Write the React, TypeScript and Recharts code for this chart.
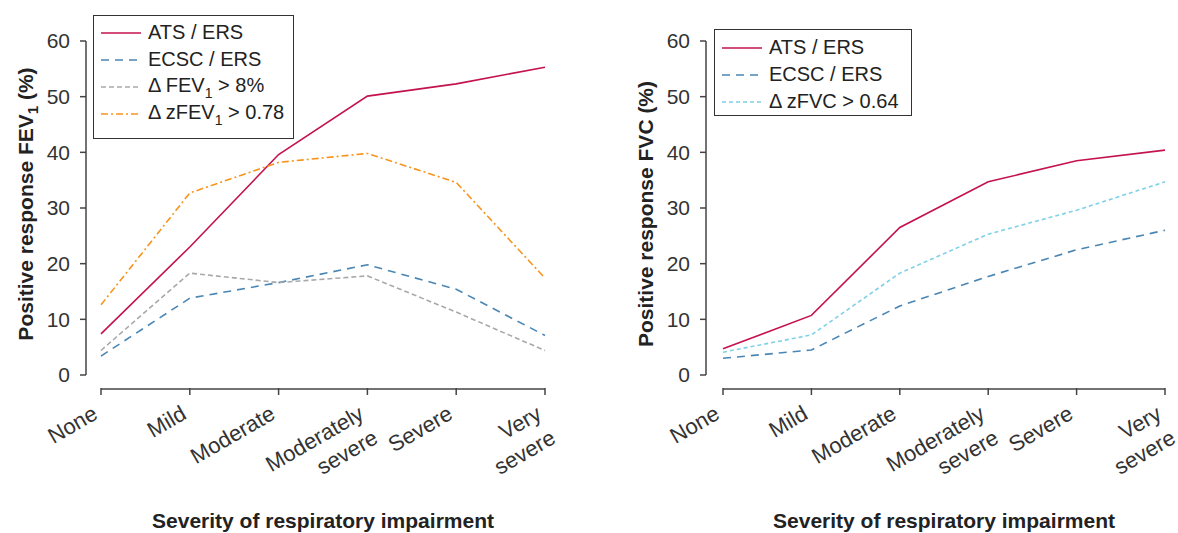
import {Legend, Line, LineChart, ReferenceLine, XAxis, YAxis} from 'recharts'

const FONT = '"Liberation Sans", Arial, Helvetica, sans-serif'
const AXIS = '#444'

const categories = ['None', 'Mild', 'Moderate', 'Moderately severe', 'Severe', 'Very severe']
const tickLines = [['None'], ['Mild'], ['Moderate'], ['Moderately', 'severe'], ['Severe'], ['Very', 'severe']]
const yTicks = [0, 10, 20, 30, 40, 50, 60]

// FEV1 panel
const fevAtsErs = [7.4, 23.0, 39.6, 50.1, 52.3, 55.3]
const fevEcscErs = [3.4, 13.8, 16.6, 19.8, 15.4, 7.1]
const fevDelta8 = [4.4, 18.3, 16.6, 17.8, 11.3, 4.4]
const fevDeltaZ = [12.6, 32.7, 38.2, 39.8, 34.6, 17.4]

// FVC panel
const fvcAtsErs = [4.7, 10.7, 26.5, 34.7, 38.5, 40.4]
const fvcEcscErs = [3.0, 4.5, 12.4, 17.7, 22.5, 26.0]
const fvcDeltaZ = [4.1, 7.2, 18.3, 25.3, 29.6, 34.7]

const sub = (t: string) => <span style={{fontSize: 14, position: 'relative', top: 6}}>{t}</span>

const fevSeries = [
    {key: 'ats', values: fevAtsErs, color: '#c4124f', dash: undefined, label: <>ATS / ERS</>},
    {key: 'ecsc', values: fevEcscErs, color: '#4a86b4', dash: '8 6', label: <>ECSC / ERS</>},
    {key: 'd8', values: fevDelta8, color: '#a9a9a9', dash: '5 3', label: <>Δ FEV{sub('1')} &gt; 8%</>},
    {key: 'dz', values: fevDeltaZ, color: '#f7941d', dash: '7 3 2 3', label: <>Δ zFEV{sub('1')} &gt; 0.78</>},
]

const fvcSeries = [
    {key: 'ats', values: fvcAtsErs, color: '#c4124f', dash: undefined, label: <>ATS / ERS</>},
    {key: 'ecsc', values: fvcEcscErs, color: '#4a86b4', dash: '8 6', label: <>ECSC / ERS</>},
    {key: 'dz', values: fvcDeltaZ, color: '#7fd0e8', dash: '4 3', label: <>Δ zFVC &gt; 0.64</>},
]

type Series = typeof fevSeries

const buildData = (series: Series) =>
    categories.map((category, i) => {
        const row: Record<string, string | number> = {category}
        series.forEach(s => { row[s.key] = s.values[i] })
        return row
    })

const XTick = ({x, y, payload}: any) => {
    const idx = categories.indexOf(payload.value)
    const lines = tickLines[idx] || [payload.value]
    return (
        <g>
            <line x1={x} x2={x} y1={y + 13} y2={y + 20} stroke={AXIS} strokeWidth={1.5}/>
            <g transform={`translate(${x - 2},${y + 43}) rotate(-30)`}>
                <text textAnchor="end" fontSize={22} fill="#333" fontFamily={FONT}>
                    {lines.map((l, i) => <tspan key={i} x={0} dy={i ? 28 : 0}>{l}</tspan>)}
                </text>
            </g>
        </g>
    )
}

const LegendBox = ({items, top, width, height}: { items: Series, top: number, width: number, height: number }) => (
    <div style={{
        border: '1.5px solid #333', boxSizing: 'border-box', width, height, paddingTop: top, paddingLeft: 7,
        background: '#fff', fontFamily: FONT, fontSize: 20, color: '#222'
    }}>
        {items.map(s => (
            <div key={s.key} style={{display: 'flex', alignItems: 'center', height: 27, lineHeight: '27px'}}>
                <svg width={40} height={10} style={{marginRight: 7}}>
                    <line x1={0} y1={5} x2={40} y2={5} stroke={s.color} strokeWidth={1.5} strokeDasharray={s.dash}/>
                </svg>
                <span style={{whiteSpace: 'nowrap'}}>{s.label}</span>
            </div>
        ))}
    </div>
)

interface PanelProps {
    series: Series
    width: number
    yAxisWidth: number
    marginRight: number
    padLeft: number
    yTitle: React.ReactNode
    yTitleX: number
    yTitleShift: number
    legend: { left: number, top: number, width: number, height: number, padTop: number }
}

const Panel = ({series, width, yAxisWidth, marginRight, padLeft, yTitle, yTitleX, yTitleShift, legend}: PanelProps) => {
    const data = buildData(series)
    return (
        <LineChart width={width} height={533} data={data} margin={{top: 41, right: marginRight, bottom: 0, left: 0}}>
            <XAxis
                dataKey="category"
                height={158}
                padding={{left: padLeft, right: 0}}
                axisLine={false}
                tickLine={false}
                tickSize={0}
                tickMargin={0}
                interval={0}
                tick={<XTick/>}
                label={{
                    content: ({viewBox}: any) => (
                        <text x={viewBox.x + padLeft + (viewBox.width - padLeft) / 2} y={528} textAnchor="middle"
                              fontSize={21} fontWeight="bold" fill="#222" fontFamily={FONT}>
                            Severity of respiratory impairment
                        </text>
                    )
                }}
            />
            <YAxis
                width={yAxisWidth}
                domain={[0, 60]}
                ticks={yTicks}
                interval={0}
                axisLine={{stroke: AXIS, strokeWidth: 1.5}}
                tickLine={{stroke: AXIS, strokeWidth: 1.5}}
                tickSize={6}
                tickMargin={10}
                tick={{fontSize: 21, fill: '#333', fontFamily: FONT}}
                label={{
                    content: ({viewBox}: any) => {
                        const cy = viewBox.y + viewBox.height / 2 + yTitleShift
                        return (
                            <text x={yTitleX} y={cy} transform={`rotate(-90 ${yTitleX} ${cy})`} textAnchor="middle"
                                  fontSize={21} fontWeight="bold" fill="#222" fontFamily={FONT}>
                                {yTitle}
                            </text>
                        )
                    }
                }}
            />
            <ReferenceLine
                segment={[{x: categories[0], y: -2.5}, {x: categories[categories.length - 1], y: -2.5}]}
                stroke={AXIS}
                strokeWidth={1.5}
                ifOverflow="visible"
            />
            {series.map(s => (
                <Line key={s.key} type="linear" dataKey={s.key} stroke={s.color} strokeWidth={1.6}
                      strokeDasharray={s.dash} dot={false} isAnimationActive={false}/>
            ))}
            <Legend
                layout="horizontal"
                verticalAlign="middle"
                align="center"
                wrapperStyle={{top: legend.top, left: legend.left, width: legend.width}}
                content={() => <LegendBox items={series} top={legend.padTop} width={legend.width}
                                          height={legend.height}/>}
            />
        </LineChart>
    )
}

export default function App() {
    return (
        <div style={{position: 'absolute', left: 0, top: 0, width: 1178, height: 533, background: '#fff', display: 'flex'}}>
            <Panel
                series={fevSeries}
                width={600}
                yAxisWidth={86}
                marginRight={55}
                padLeft={15}
                yTitle={<>Positive response FEV<tspan dy={5} fontSize={15}>1</tspan><tspan dy={-5}> (%)</tspan></>}
                yTitleX={33}
                yTitleShift={-4}
                legend={{left: 93, top: 15, width: 201, height: 124, padTop: 3}}
            />
            <Panel
                series={fvcSeries}
                width={578}
                yAxisWidth={106}
                marginRight={13}
                padLeft={17}
                yTitle={<>Positive response FVC (%)</>}
                yTitleX={53}
                yTitleShift={6}
                legend={{left: 114, top: 29, width: 198, height: 87, padTop: 4}}
            />
        </div>
    )
}
